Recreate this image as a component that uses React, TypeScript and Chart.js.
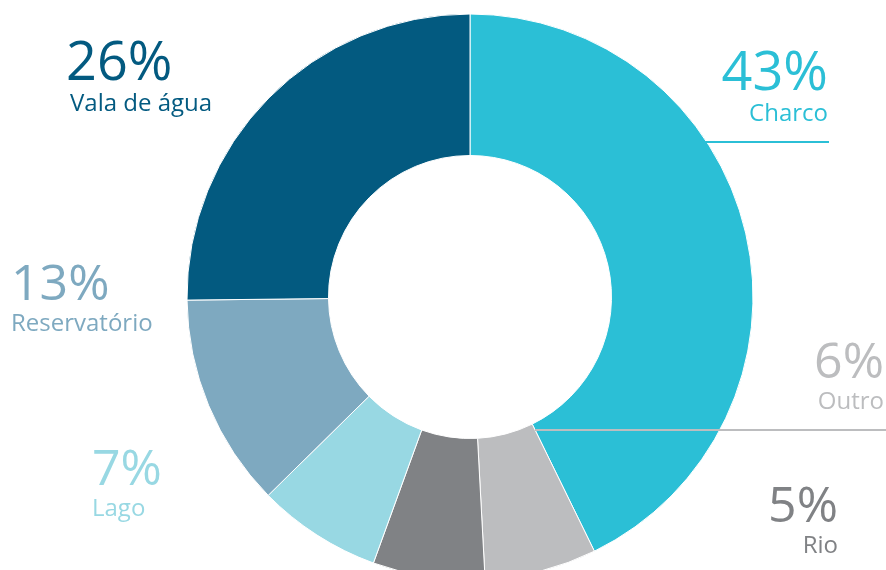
import React, { useEffect, useRef } from "react";
import { Chart, registerables } from "chart.js";

Chart.register(...registerables);

const categories = ["Charco", "Outro", "Rio", "Lago", "Reservatório", "Vala de água"];
// printed percentages
const percentLabels = ["43%", "6%", "5%", "7%", "13%", "26%"];
// arc shares as drawn in the picture (in %)
const sliceShares = [42.8, 6.4, 6.4, 7.1, 12.2, 25.2];
const sliceColors = ["#2BBFD6", "#BCBDBF", "#808285", "#98D8E3", "#7EA9C0", "#035A80"];

// label placement (style only)
const labelLayout = [
  { x: 828, y: 90, align: "right", numSize: 54, txtSize: 24, line: { x1: 700, x2: 829, y: 142 } },
  { x: 884, y: 378, align: "right", numSize: 50, txtSize: 24, line: { x1: 535, x2: 886, y: 430 } },
  { x: 838, y: 522, align: "right", numSize: 50, txtSize: 24 },
  { x: 92, y: 485, align: "left", numSize: 50, txtSize: 24 },
  { x: 11, y: 300, align: "left", numSize: 50, txtSize: 24 },
  { x: 66, y: 80, align: "left", numSize: 54, txtSize: 24, txtDx: 4 },
];

const FONT = '"Open Sans", "Noto Sans", sans-serif';

const labelsPlugin = {
  id: "sliceLabels",
  afterDraw(chart: any) {
    const ctx = chart.ctx;
    ctx.save();
    categories.forEach((cat, i) => {
      const L: any = labelLayout[i];
      const color = sliceColors[i];
      if (L.line) {
        ctx.strokeStyle = color;
        ctx.lineWidth = 2;
        ctx.beginPath();
        ctx.moveTo(L.line.x1, L.line.y);
        ctx.lineTo(L.line.x2, L.line.y);
        ctx.stroke();
      }
      ctx.fillStyle = color;
      ctx.textAlign = L.align;
      ctx.textBaseline = "alphabetic";
      ctx.font = `400 ${L.numSize}px ${FONT}`;
      ctx.fillText(percentLabels[i], L.x, L.y);
      ctx.font = `400 ${L.txtSize}px ${FONT}`;
      ctx.fillText(cat, L.x + (L.txtDx || 0), L.y + 31);
    });
    ctx.restore();
  },
};

export default function App() {
  const ref = useRef<HTMLCanvasElement>(null);
  useEffect(() => {
    if (!ref.current) return;
    const chart = new Chart(ref.current, {
      type: "doughnut",
      data: {
        labels: categories,
        datasets: [
          {
            data: sliceShares,
            backgroundColor: sliceColors,
            borderColor: "#ffffff",
            borderWidth: 1,
            radius: 283,
          } as any,
        ],
      },
      options: {
        animation: false,
        responsive: true,
        maintainAspectRatio: false,
        cutout: "50%",
        layout: { padding: { left: 187, right: 133, top: 24, bottom: 0 } },
        plugins: {
          legend: { display: false },
          tooltip: { enabled: false },
        },
      },
      plugins: [labelsPlugin],
    });
    return () => chart.destroy();
  }, []);
  return (
    <div style={{ position: "fixed", left: 0, top: 0, width: 886, height: 570, background: "#fff" }}>
      <canvas ref={ref} />
    </div>
  );
}
